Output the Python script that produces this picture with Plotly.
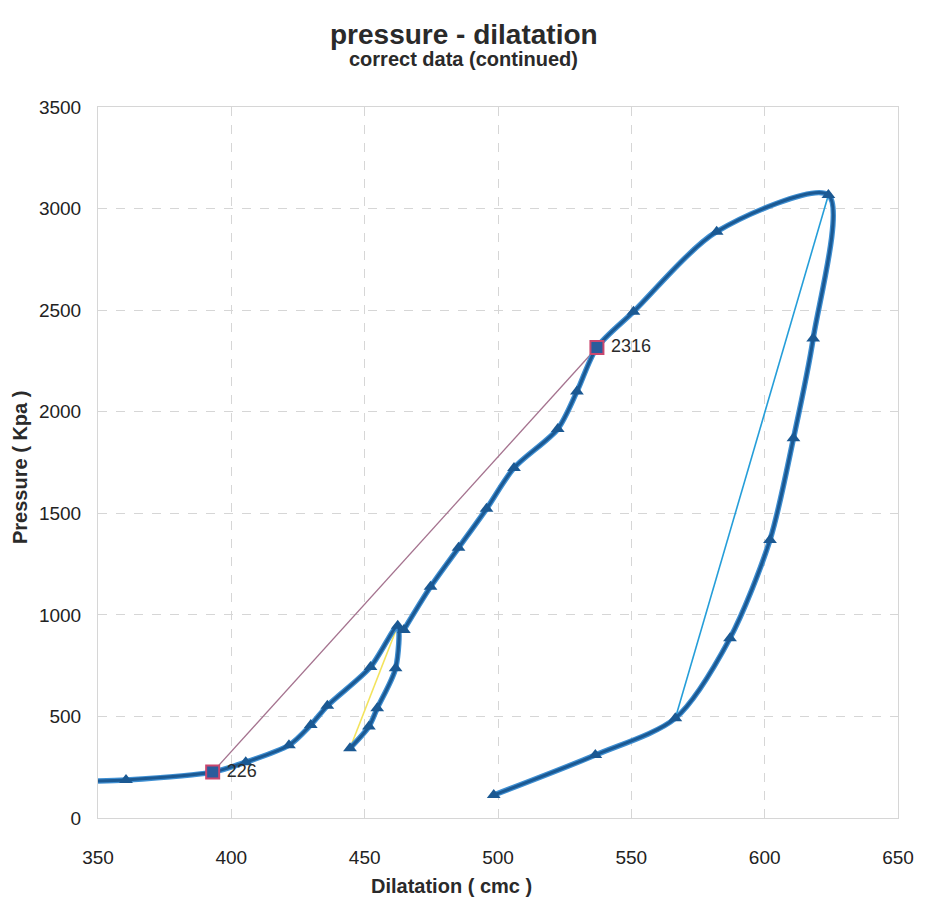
import plotly.graph_objects as go

# Loading branch up to the first peak, then the short unloading path back down
load_x = [350, 360.5, 393.0, 405.4, 421.6, 429.8, 436.0, 452.2, 462.4, 461.6, 454.7, 451.6, 444.5]
load_p = [182, 187, 226, 275, 358, 458, 552, 743, 946, 737, 540, 450, 343]

# Reloading branch to the maximum pressure, then the final unloading
reload_x = [464.7, 474.7, 485.2, 495.7, 506.0, 522.4, 529.6, 537.1, 550.8, 582.0,
            623.9, 618.2, 610.8, 602.0, 587.0, 566.5, 536.5, 498.4]
reload_p = [926, 1138, 1330, 1522, 1723, 1915, 2099, 2316, 2492, 2886,
            3067, 2361, 1869, 1369, 885, 491, 310, 113]

# Highlighted points (labelled with their pressure)
mark_x = [393.0, 537.1]
mark_p = [226, 2316]

# Straight chords between selected points
yellow_x = [444.5, 462.4]
yellow_p = [343, 946]
cyan_x = [566.5, 623.9]
cyan_p = [491, 3067]

x_ticks = [350, 400, 450, 500, 550, 600, 650]
y_ticks = [0, 500, 1000, 1500, 2000, 2500, 3000, 3500]

FONT = "Liberation Sans, Arial, sans-serif"
HALO = "#3f8fd2"
DARK = "#1b5993"
GRID = "#d6d6d6"

fig = go.Figure()

# chords sit underneath the curve
fig.add_trace(go.Scatter(x=mark_x, y=mark_p, mode="lines",
                         line=dict(color="#a5738f", width=1.3), hoverinfo="skip"))
fig.add_trace(go.Scatter(x=yellow_x, y=yellow_p, mode="lines",
                         line=dict(color="#f3e35c", width=1.6), hoverinfo="skip"))
fig.add_trace(go.Scatter(x=cyan_x, y=cyan_p, mode="lines",
                         line=dict(color="#259ed9", width=1.6), hoverinfo="skip"))

for xs, ps in ((load_x, load_p), (reload_x, reload_p)):
    # light blue halo under a darker core line
    fig.add_trace(go.Scatter(x=xs, y=ps, mode="lines",
                             line=dict(color=HALO, width=5.5, shape="spline", smoothing=0.8),
                             hoverinfo="skip"))
    fig.add_trace(go.Scatter(x=xs, y=ps, mode="lines",
                             line=dict(color=DARK, width=3, shape="spline", smoothing=0.8)))

# triangle markers on every reading except the curve's starting point
tri_x = load_x[1:] + reload_x
tri_p = load_p[1:] + reload_p
fig.add_trace(go.Scatter(x=tri_x, y=tri_p, mode="markers",
                         marker=dict(symbol="triangle-up", size=12, color=DARK,
                                     line=dict(color=DARK, width=0))))

# highlighted square markers with value labels
fig.add_trace(go.Scatter(x=mark_x, y=mark_p, mode="markers+text",
                         marker=dict(symbol="square", size=13, color="#2a5c9c",
                                     line=dict(color="#c9476f", width=2)),
                         text=[" " + str(v) for v in mark_p], textposition="middle right",
                         textfont=dict(family=FONT, size=18, color="#2b2b2b")))

fig.update_layout(
    width=930, height=910,
    margin=dict(l=98, r=32, t=107, b=92),
    paper_bgcolor="white", plot_bgcolor="white",
    showlegend=False,
    font=dict(family=FONT, color="#222222"),
    annotations=[
        dict(text="<b>pressure - dilatation</b>", xref="paper", yref="paper",
             x=(464 - 98) / 800, y=(818 - 34) / 711, xanchor="center", yanchor="middle",
             showarrow=False, font=dict(family=FONT, size=28, color="#2a2a2a")),
        dict(text="<b>correct data (continued)</b>", xref="paper", yref="paper",
             x=(463 - 98) / 800, y=(818 - 59) / 711, xanchor="center", yanchor="middle",
             showarrow=False, font=dict(family=FONT, size=20, color="#2a2a2a")),
        dict(text="<b>Dilatation ( cmc )</b>", xref="paper", yref="paper",
             x=(451 - 98) / 800, y=(818 - 886) / 711, xanchor="center", yanchor="middle",
             showarrow=False, font=dict(family=FONT, size=20, color="#2a2a2a")),
        dict(text="<b>Pressure ( Kpa )</b>", xref="paper", yref="paper",
             x=(20 - 98) / 800, y=(818 - 468) / 711, xanchor="center", yanchor="middle",
             textangle=-90, showarrow=False, font=dict(family=FONT, size=20, color="#2a2a2a")),
    ],
)

fig.update_xaxes(range=[350, 650], tickvals=x_ticks, ticktext=[str(v) for v in x_ticks],
                 showgrid=True, gridcolor=GRID, gridwidth=1, griddash="dash",
                 zeroline=False, showline=True, linecolor=GRID, mirror=True,
                 ticks="", ticklabelstandoff=22,
                 tickfont=dict(family=FONT, size=19, color="#222222"))
fig.update_yaxes(range=[0, 3500], tickvals=y_ticks, ticktext=[str(v) for v in y_ticks],
                 showgrid=True, gridcolor=GRID, gridwidth=1, griddash="dash",
                 zeroline=False, showline=True, linecolor=GRID, mirror=True,
                 ticks="", ticklabelstandoff=12,
                 tickfont=dict(family=FONT, size=19, color="#222222"))

fig.write_html("out.html")
